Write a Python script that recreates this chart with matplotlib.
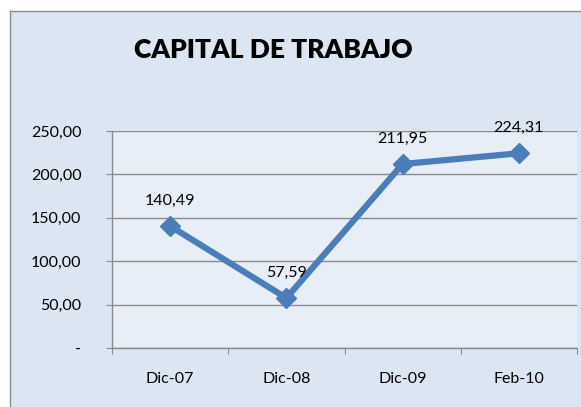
import matplotlib
matplotlib.use("Agg")
import matplotlib.pyplot as plt

# Datos del gráfico
periodos = ["Dic-07", "Dic-08", "Dic-09", "Feb-10"]
capital = [140.49, 57.59, 211.95, 224.31]
y_ticks = [0, 50, 100, 150, 200, 250]

plt.rcParams['font.family'] = ['Lato', 'DejaVu Sans']

fig = plt.figure(figsize=(5.81, 4.07), dpi=100)
fig.patch.set_facecolor("white")

# Fondo del área del gráfico (eje sin contenido detrás de todo)
bg = fig.add_axes([10 / 581, -0.05, 1.0, 1 - 11 / 407 + 0.05], zorder=0)
bg.set_facecolor("#dce6f2")
bg.set_xticks([])
bg.set_yticks([])
for s in bg.spines.values():
    s.set_color("#8c8c8c")
    s.set_linewidth(1.0)

fig.text(273 / 581, 1 - 50 / 407, "CAPITAL DE TRABAJO", ha="center", va="center",
         fontsize=19, fontweight="heavy", color="black", zorder=5)

ax = fig.add_axes([112 / 581, 1 - 348 / 407, 465 / 581, 217 / 407], zorder=2)
ax.set_facecolor("#e8eef7")

x = list(range(len(periodos)))
ax.plot(x, capital, color="#4a7ebb", linewidth=4.5, marker="D", markersize=10,
        zorder=3, solid_joinstyle="miter")

for xi, v in zip(x, capital):
    ax.annotate(f"{v:.2f}".replace(".", ","), (xi, v), xytext=(0, 18),
                textcoords="offset points", ha="center", va="center",
                fontsize=11.5, color="black", annotation_clip=False)

ax.set_xlim(-0.5, len(periodos) - 0.5)
ax.set_ylim(0, 250)
ax.set_yticks(y_ticks)
ax.set_yticklabels(["-" if t == 0 else f"{t:.2f}".replace(".", ",") for t in y_ticks])
ax.set_xticks([i - 0.5 for i in range(len(periodos) + 1)])
ax.set_xticklabels([])
ax.set_xticks(x, minor=True)
ax.set_xticklabels(periodos, minor=True)

ax.grid(axis="y", color="#8a8a8a", linewidth=1.0)
ax.set_axisbelow(True)
for s in ["top", "right"]:
    ax.spines[s].set_visible(False)
for s in ["left", "bottom"]:
    ax.spines[s].set_color("#8a8a8a")
    ax.spines[s].set_linewidth(1.0)

ax.tick_params(axis="y", which="major", direction="out", length=4, color="#8a8a8a",
               pad=18, labelsize=11.5)
ax.tick_params(axis="x", which="major", direction="out", length=4, color="#8a8a8a")
ax.tick_params(axis="x", which="minor", length=0, pad=17, labelsize=11.5)

fig.savefig("out.png", dpi=100, facecolor=fig.get_facecolor())
